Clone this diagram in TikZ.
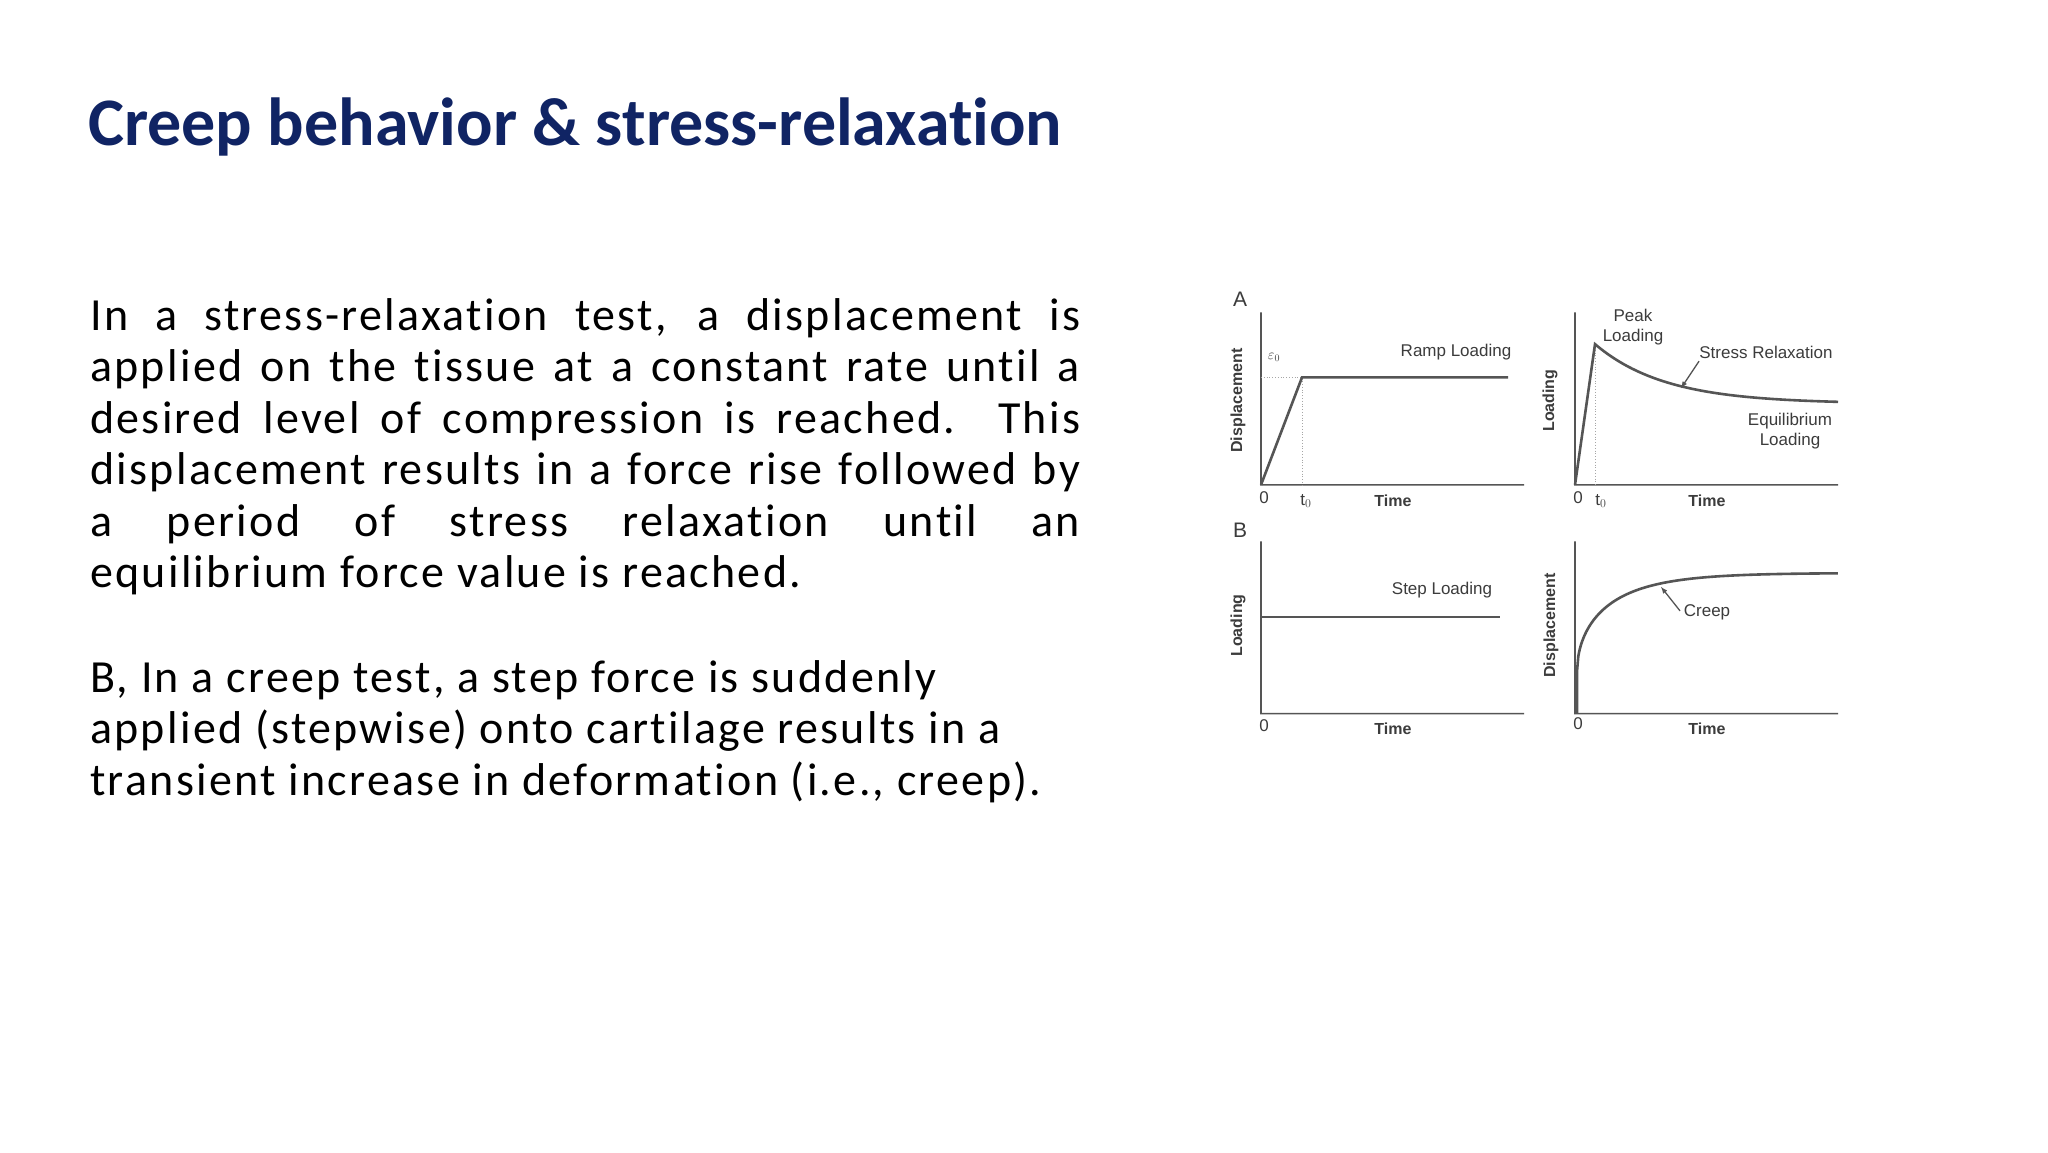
\documentclass[tikz,border=0pt]{standalone}
\usepackage{fontspec}
\setmainfont{Carlito}[Ligatures={NoCommon}]
\newfontfamily\bodyfont{Carlito}[LetterSpace=5,Ligatures={NoCommon}]
\newfontfamily\gfont{Liberation Sans}
\definecolor{navy}{RGB}{16,36,100}
\definecolor{gline}{RGB}{85,85,85}
\definecolor{gtext}{RGB}{60,60,60}
\begin{document}
\begin{tikzpicture}[x=1pt,y=-1pt,
  body/.style={anchor=base west,inner sep=0pt,font=\bodyfont\fontsize{46}{52}\selectfont,text=black},
  glab/.style={inner sep=0pt,font=\gfont\fontsize{17}{20}\selectfont,text=gtext,align=center},
  gbold/.style={inner sep=0pt,font=\gfont\bfseries\fontsize{16}{19}\selectfont,text=gtext},
  axisline/.style={draw=gline,line width=1.6pt},
  curve/.style={draw=gline,line width=2.6pt},
  guide/.style={draw=gray!70,line width=0.8pt,dotted}]
\useasboundingbox (0,0) rectangle (2048,1152);
\fill[white] (0,0) rectangle (2048,1152);
\node[anchor=base west,inner sep=0pt,font=\bfseries\fontsize{68}{80}\selectfont,text=navy] (title) at (88,145) {Creep behavior \& stress-relaxation};
\node[body] (l1) at (90,330) {\makebox[990pt][s]{In a stress-relaxation test, a displacement is}};
\node[body] (l2) at (90,381.5) {\makebox[990pt][s]{applied on the tissue at a constant rate until a}};
\node[body] (l3) at (90,433) {\makebox[990pt][s]{desired level of compression is reached. This}};
\node[body] (l4) at (90,484.5) {\makebox[990pt][s]{displacement results in a force rise followed by}};
\node[body] (l5) at (90,536) {\makebox[990pt][s]{a period of stress relaxation until an}};
\node[body] (l6) at (90,587.5) {equilibrium force value is reached.};
\node[body] (l7) at (90,692) {B, In a creep test, a step force is suddenly};
\node[body] (l8) at (90,743.5) {applied (stepwise) onto cartilage results in a};
\node[body] (l9) at (90,795) {transient increase in deformation (i.e., creep).};
\begin{scope}[shift={(0,280)},yscale=0.773,shift={(0,-280)}]
% Panel A left
\node[glab,font=\gfont\fontsize{21}{24}\selectfont] (A) at (1240,305) {A};
\coordinate (o1) at (1261,545);
\draw[axisline] (1261,322) -- (o1) -- (1524,545);
\draw[guide] (1261,406) -- (1302,406) -- (1302,545);
\draw[curve] (o1) -- (1302,406) -- (1508,406);
\node[glab,font=\gfont\fontsize{14}{16}\selectfont] (eps) at (1274,380) {$\varepsilon_0$};
\node[glab] (ramp) at (1456,373) {Ramp Loading};
\node[glab] (z1) at (1264,561) {0};
\node[glab] (t1) at (1306,566) {t$_0$};
\node[gbold] (time1) at (1393,566) {Time};
\node[gbold,rotate=90] (disp1) at (1238,436) {Displacement};
% Panel A right
\coordinate (o2) at (1575,545);
\draw[axisline] (1575,322) -- (o2) -- (1838,545);
\draw[guide] (1595,363) -- (1595,545);
\draw[curve] (o2) -- (1595,363) -- plot[domain=1595:1838,samples=80] (\x,{440-77*exp(-(\x-1595)/70)});
\draw[-latex,gline,line width=1.3pt] (1699,385) -- (1681,420);
\node[glab] (peak) at (1633,341) {Peak\\Loading};
\node[glab] (sr) at (1766,374) {Stress Relaxation};
\node[glab] (eq) at (1790,476) {Equilibrium\\Loading};
\node[glab] (z2) at (1578,561) {0};
\node[glab] (t2) at (1601,566) {t$_0$};
\node[gbold] (time2) at (1707,566) {Time};
\node[gbold,rotate=90] (load2) at (1550,436) {Loading};
% Panel B left
\node[glab,font=\gfont\fontsize{21}{24}\selectfont] (B) at (1240,604) {B};
\coordinate (o3) at (1261,841);
\draw[axisline] (1261,618) -- (o3) -- (1524,841);
\draw[curve] (1261,716) -- (1500,716);
\node[glab] (step) at (1442,681) {Step Loading};
\node[glab] (z3) at (1264,857) {0};
\node[gbold] (time3) at (1393,861) {Time};
\node[gbold,rotate=90] (load3) at (1238,727) {Loading};
% Panel B right
\coordinate (o4) at (1575,841);
\draw[axisline] (1575,618) -- (o4) -- (1838,841);
\draw[curve] (1577,841) -- (1577,786) -- plot[domain=0:1,samples=200] ({1577+261*\x},{841-182*(0.3+0.7*sqrt(1-exp(-\x/0.2)))});
\draw[-latex,gline,line width=1.3pt] (1680,708) -- (1661,677);
\node[glab] (creep) at (1707,710) {Creep};
\node[glab] (z4) at (1578,854) {0};
\node[gbold] (time4) at (1707,861) {Time};
\node[gbold,rotate=90] (disp4) at (1551,727) {Displacement};
\end{scope}
\end{tikzpicture}
\end{document}
